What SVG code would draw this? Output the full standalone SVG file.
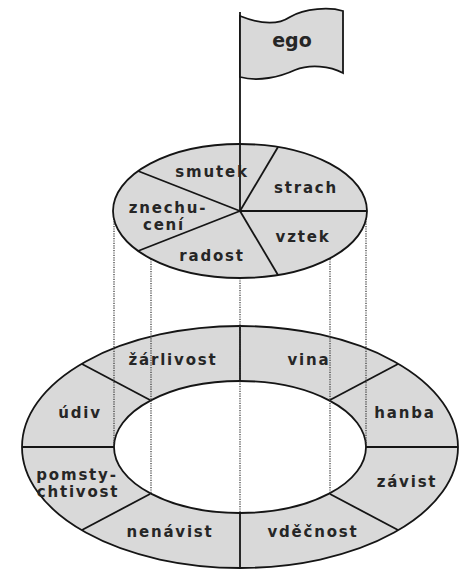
<svg xmlns="http://www.w3.org/2000/svg" width="459" height="570" viewBox="0 0 459 570">
<style>
.fill{fill:#d9d9d9;stroke:#151515;stroke-width:1.8}
.hole{fill:#ffffff;stroke:#151515;stroke-width:1.8}
.ln{stroke:#151515;stroke-width:1.8;fill:none}
.dot{stroke:#333;stroke-width:1.2;stroke-dasharray:1.2 1.2;fill:none}
.t{font-family:"DejaVu Sans","Liberation Sans",sans-serif;font-weight:bold;font-size:15px;fill:#262626;text-anchor:middle;letter-spacing:1.8px}
.ego{font-family:"DejaVu Sans","Liberation Sans",sans-serif;font-weight:bold;font-size:19px;fill:#262626;text-anchor:middle}
</style>
<rect width="459" height="570" fill="#ffffff"/>
<g id="ring">
<ellipse class="fill" cx="240" cy="447" rx="218" ry="121"/>
<ellipse class="hole" cx="240" cy="447" rx="126" ry="66"/>
<line class="ln" x1="240" y1="326" x2="240" y2="381"/>
<line class="ln" x1="150" y1="400" x2="82" y2="364"/>
<line class="ln" x1="114" y1="447" x2="22" y2="447"/>
<line class="ln" x1="150" y1="494" x2="82" y2="530"/>
<line class="ln" x1="240" y1="513" x2="240" y2="568"/>
<line class="ln" x1="330" y1="400" x2="398" y2="364"/>
<line class="ln" x1="366" y1="447" x2="458" y2="447"/>
<line class="ln" x1="330" y1="494" x2="398" y2="530"/>
</g>
<g id="connectors">
<line class="dot" x1="114" y1="214" x2="114" y2="447"/>
<line class="dot" x1="151" y1="259" x2="151" y2="494"/>
<line class="dot" x1="240" y1="278" x2="240" y2="513"/>
<line class="dot" x1="330" y1="259" x2="330" y2="494"/>
<line class="dot" x1="366" y1="214" x2="366" y2="447"/>
</g>
<g id="disc">
<ellipse class="fill" cx="240" cy="211" rx="127" ry="67"/>
<line class="ln" x1="240" y1="211" x2="278" y2="147"/>
<line class="ln" x1="240" y1="211" x2="367" y2="211"/>
<line class="ln" x1="240" y1="211" x2="278" y2="275"/>
<line class="ln" x1="240" y1="211" x2="138" y2="251"/>
<line class="ln" x1="240" y1="211" x2="138" y2="171"/>
</g>
<g id="flag">
<line class="ln" x1="240" y1="12" x2="240" y2="211"/>
<path class="fill" d="M240,16 C255,22 275,27 290,17 C305,8 330,7 343,11 L343,73 C330,66 310,64 295,70 C280,77 258,82 240,77 Z"/>
<text class="ego" x="292" y="47">ego</text>
</g>
<g id="disc-labels">
<text class="t" x="212" y="177">smutek</text>
<text class="t" x="306" y="193">strach</text>
<text class="t" x="168" y="213">znechu-</text>
<text class="t" x="164" y="230">cení</text>
<text class="t" x="303" y="242">vztek</text>
<text class="t" x="212" y="261">radost</text>
</g>
<g id="ring-labels">
<text class="t" x="173" y="365">žárlivost</text>
<text class="t" x="309" y="365">vina</text>
<text class="t" x="80" y="418">údiv</text>
<text class="t" x="405" y="418">hanba</text>
<text class="t" x="77" y="480">pomsty-</text>
<text class="t" x="78" y="497">chtivost</text>
<text class="t" x="407" y="487">závist</text>
<text class="t" x="170" y="537">nenávist</text>
<text class="t" x="313" y="537">vděčnost</text>
</g>
</svg>
